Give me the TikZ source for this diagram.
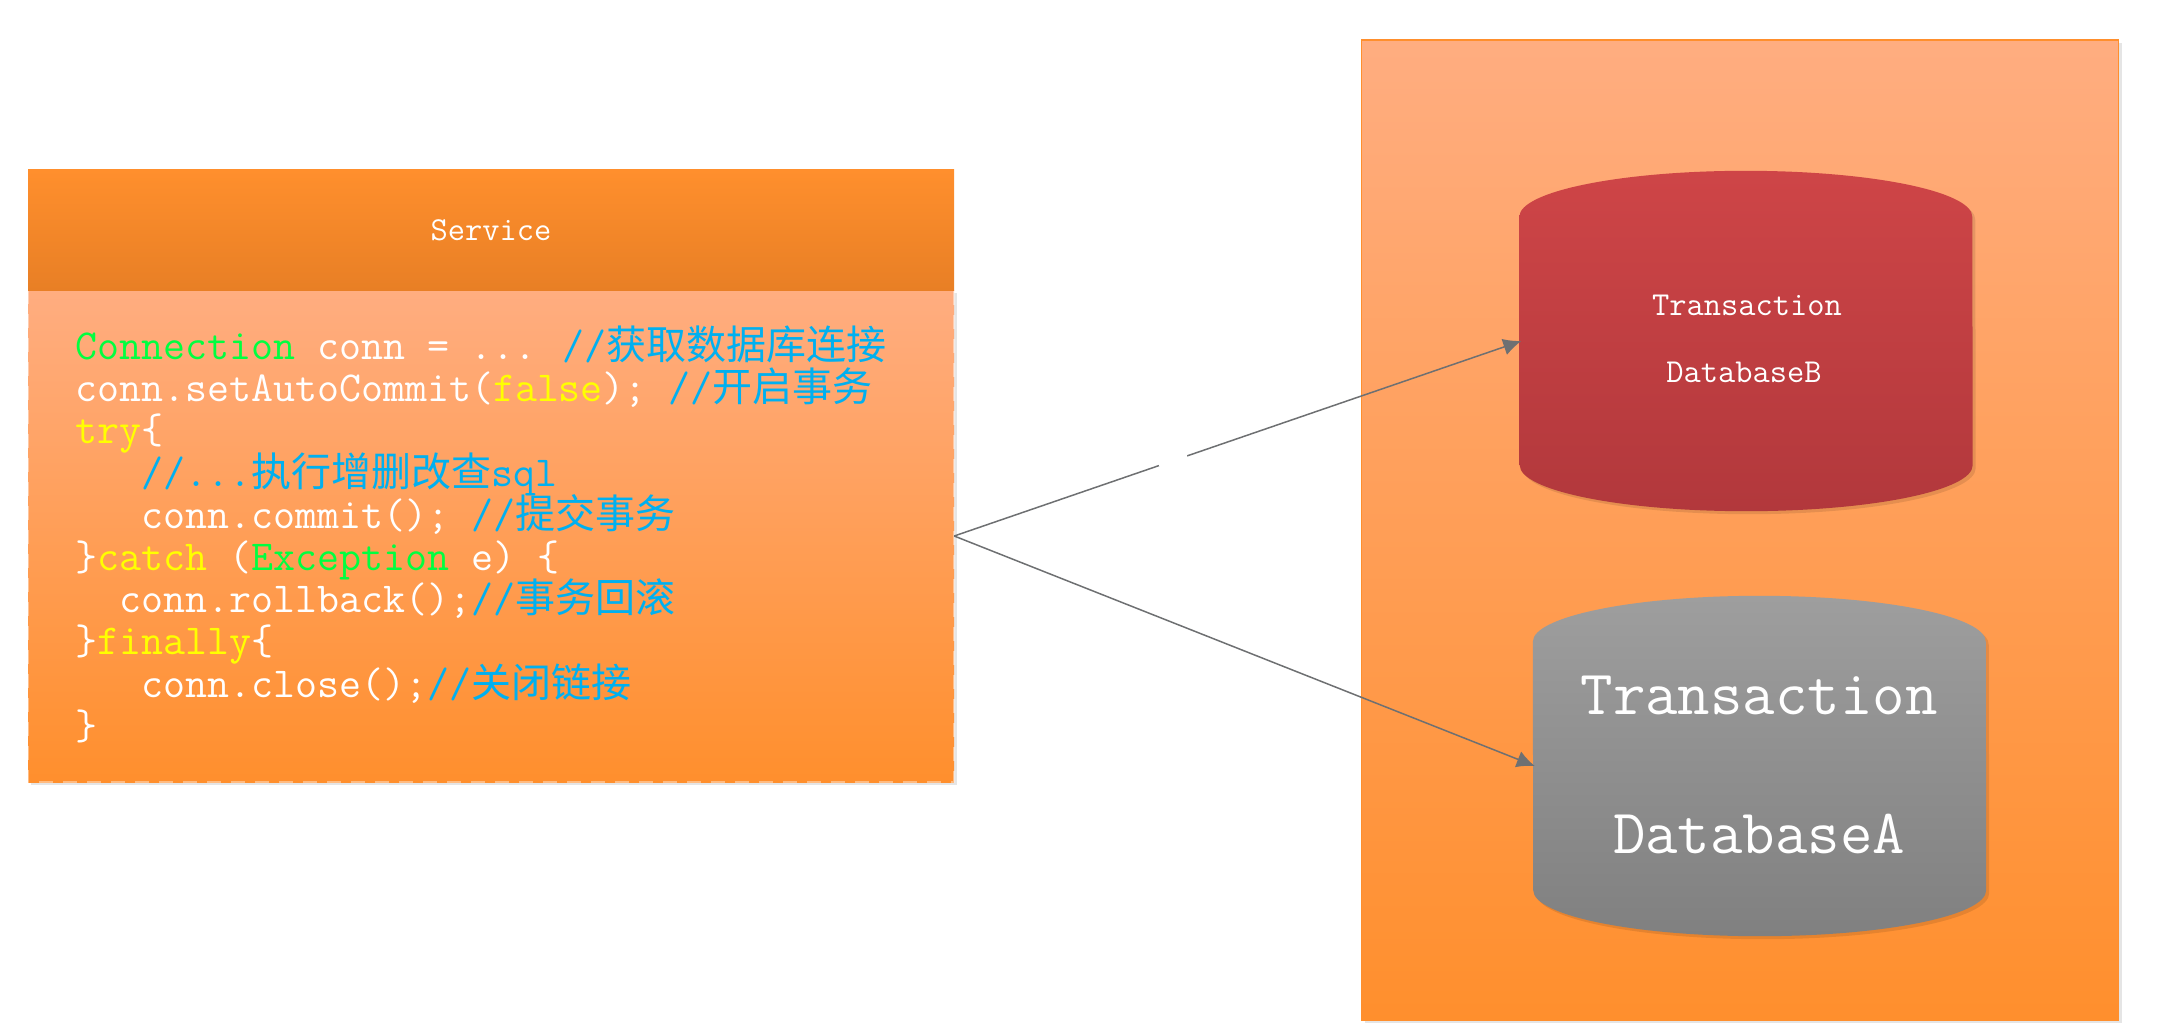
\documentclass[tikz,border=0pt]{standalone}
\usepackage{fontspec}
\usetikzlibrary{arrows.meta,calc,shadows}
\newfontfamily\cjk{Noto Sans CJK SC}
\definecolor{orA}{RGB}{255,143,45}
\definecolor{orB}{RGB}{232,127,37}
\definecolor{orL}{RGB}{255,173,128}
\definecolor{redA}{RGB}{206,69,71}
\definecolor{redB}{RGB}{178,56,60}
\definecolor{grA}{RGB}{158,158,158}
\definecolor{grB}{RGB}{128,128,128}
\definecolor{cgreen}{RGB}{0,255,64}
\definecolor{cyell}{RGB}{255,255,0}
\definecolor{cblue}{RGB}{0,176,240}
\definecolor{linkgr}{RGB}{110,112,114}
\newcommand{\kw}[1]{\textcolor{cyell}{#1}}
\newcommand{\ty}[1]{\textcolor{cgreen}{#1}}
\newcommand{\cm}[1]{\textcolor{cblue}{#1}}
\newcommand{\zh}[1]{{\fontsize{40}{42}\cjk #1}}
\newcommand{\dbshape}[3]{%
  \path[softshadow,top color=#2,bottom color=#3]
    ($(#1.north west)+(0,46)$) arc[start angle=180,end angle=0,x radius=226.5pt,y radius=46pt]
    -- ($(#1.south east)+(0,-46)$) arc[start angle=0,end angle=-180,x radius=226.5pt,y radius=46pt]
    -- cycle;}
\tikzset{
  softshadow/.style={drop shadow={shadow xshift=3pt,shadow yshift=-3pt,opacity=0.10,fill=black}},
  panel/.style={rectangle,inner sep=0pt,top color=orL,bottom color=orA},
  dbbox/.style={rectangle,inner sep=0pt,minimum width=453pt,minimum height=340pt},
  link/.style={draw=linkgr,line width=1.5pt,-{Latex[length=18pt,width=17pt]}},
  smalltxt/.style={text=white,font=\ttfamily\fontsize{33.5}{36}\selectfont},
  bigtxt/.style={text=white,font=\ttfamily\fontsize{63}{70}\selectfont},
  codeline/.style={anchor=base west,inner sep=0pt,text=white,font=\ttfamily\fontsize{42.7}{42}\selectfont}
}
\begin{document}
\begin{tikzpicture}[x=1pt,y=-1pt]
\useasboundingbox (0,0) rectangle (2158,1030);
% container
\node[panel,draw=orA,line width=1.2pt,softshadow,minimum width=757pt,minimum height=980pt] (store) at (1740,530) {};
% service
\node[panel,softshadow,minimum width=926pt,minimum height=492pt] (body) at (491,536) {};
\draw[white,opacity=0.4,line width=2pt,dash pattern=on 14pt off 10pt] (body.north west) rectangle (body.south east);
\node[rectangle,inner sep=0pt,top color=orA,bottom color=orB,minimum width=926pt,minimum height=121pt] (head) at (491,230) {};
\node[smalltxt] (svc) at (head.center) {Service};
% code
\node[codeline] (c1) at (75,359.5) {\ty{Connection} conn = ...\kern-4pt{} \cm{//\zh{获取数据库连接}}};
\node[codeline] (c2) at (75,401.7) {conn.setAutoCommit(\kw{false}); \cm{//\zh{开启事务}}};
\node[codeline] (c3) at (75,443.9) {\kw{try}\{};
\node[codeline] (c4) at (75,486.1) {~~~\cm{//...\zh{执行增删改查}sql}};
\node[codeline] (c5) at (75,528.3) {~~~conn.commit(); \cm{//\zh{提交事务}}};
\node[codeline] (c6) at (75,570.5) {\}\kw{catch} (\ty{Exception} e) \{};
\node[codeline] (c7) at (75,612.7) {~~conn.rollback();\cm{//\zh{事务回滚}}};
\node[codeline] (c8) at (75,654.9) {\}\kw{finally}\{};
\node[codeline] (c9) at (75,697.1) {~~~conn.close();\cm{//\zh{关闭链接}}};
\node[codeline] (c10) at (75,739.3) {\}};
% databases
\node[dbbox] (dbB) at (1746,341) {};
\dbshape{dbB}{redA}{redB}
\node[smalltxt] (tb) at (1747,305.5) {Transaction};
\node[smalltxt] (db) at (1744,372) {DatabaseB};
\node[dbbox] (dbA) at (1759.5,766) {};
\dbshape{dbA}{grA}{grB}
\node[bigtxt] (ta) at (1759,695) {Transaction};
\node[bigtxt] (da) at (1759,834) {DatabaseA};
% connectors
\draw[link] (body.east) -- ($(dbB.west)+(2,0)$);
\draw[link] (body.east) -- ($(dbA.west)+(2,0)$);
\draw[white,line width=4pt] ($(body.east)!0.3625!(dbB.west)$) -- ($(body.east)!0.412!(dbB.west)$);
\end{tikzpicture}
\end{document}
